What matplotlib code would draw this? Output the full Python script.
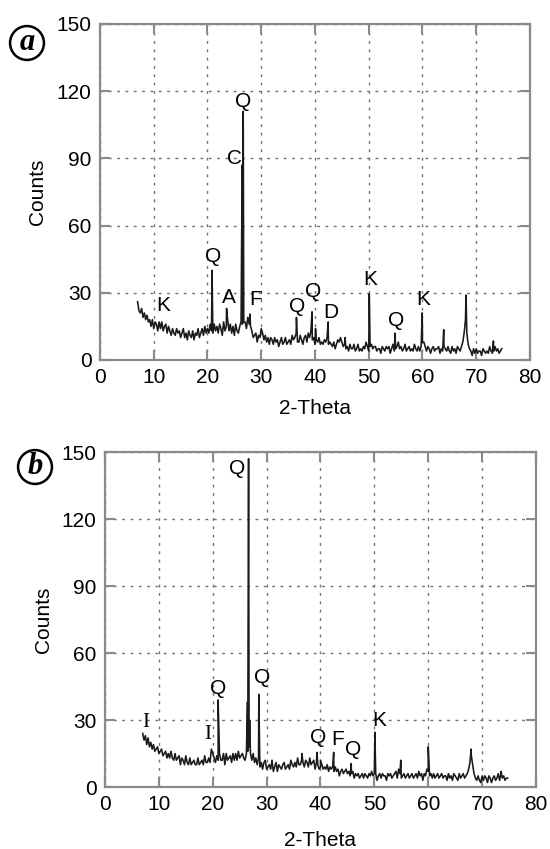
"""
XRD patterns of two samples (a, b) with phase labels.
Q quartz, C calcite, K kaolinite, A albite, F feldspar, D dolomite, I illite.
"""
import matplotlib
matplotlib.use('Agg')
import matplotlib.pyplot as plt
import numpy as np

# ── sample (a): background counts every 0.25 deg starting at 7.0 ───────────
bg_a = [
    26, 22, 21, 23, 19, 21, 18, 20, 17, 18, 15, 18, 14, 17, 16, 13, 17, 14, 17, 13,   # 7
    15, 16, 12, 15, 13, 11, 14, 12, 11, 14, 12, 13, 10, 12, 14, 10, 12, 9, 13, 11,    # 12
    10, 13, 9, 12, 11, 14, 10, 12, 14, 11, 15, 12, 14, 12, 16, 13, 12, 16, 13, 15,    # 17
    12, 16, 14, 11, 17, 13, 15, 18, 13, 16, 12, 15, 11, 16, 13, 12, 15, 17, 16, 17,   # 22
    17, 14, 19, 16, 15, 13, 10, 11, 12, 8, 11, 10, 14, 12, 9, 11, 8, 10, 7, 10,       # 27
    9, 7, 10, 8, 9, 6, 8, 10, 7, 8, 10, 7, 8, 9, 7, 11, 9, 10, 12, 8,                 # 32
    8, 11, 9, 7, 10, 11, 8, 12, 10, 13, 9, 10, 7, 9, 8, 10, 7, 8, 7, 9,               # 37
    8, 10, 7, 8, 7, 6, 8, 5, 7, 9, 8, 10, 8, 6, 7, 5, 6, 4, 7, 5,                     # 42
    5, 7, 4, 5, 7, 4, 5, 4, 6, 5, 8, 6, 4, 6, 7, 5, 6, 6, 4, 5,                       # 47
    5, 3, 6, 5, 4, 6, 5, 6, 3, 5, 7, 4, 5, 6, 8, 5, 6, 4, 5, 7,                       # 52
    4, 5, 6, 4, 5, 4, 7, 5, 4, 6, 4, 6, 8, 8, 6, 4, 6, 5, 3, 5,                       # 57
    6, 4, 5, 5, 6, 3, 5, 4, 6, 5, 4, 6, 4, 3, 6, 4, 5, 3, 6, 5,                       # 62
    4, 6, 8, 12, 18, 12, 7, 5, 4, 2, 5, 3, 5, 3, 4, 4, 2, 5, 4, 3,                    # 67
    4, 3, 6, 4, 3, 4, 6, 4, 5, 3, 4, 5,                                               # 72
]
peak_pos_a = [20.85, 23.55, 26.45, 26.55, 26.65, 27.9, 36.55, 39.45, 40.1,
              42.45, 45.6, 50.1, 54.9, 59.95, 63.95, 68.1, 73.2]
peak_cnt_a = [40, 23, 87, 60, 111, 20.5, 19, 21.5, 14,
              17, 10, 29.5, 12, 21, 13.5, 29, 8.5]

labels_a = ['Q', 'C', 'Q', 'K', 'A', 'F', 'Q', 'Q', 'D', 'K', 'Q', 'K']
label_x_a = [26.6, 25.1, 21.0, 11.8, 23.9, 29.0, 36.6, 39.7, 43.0, 50.2, 55.1, 60.1]
label_y_a = [115.5, 90, 46, 24.5, 28, 27, 23.7, 30.4, 21.4, 35.7, 17.8, 26.8]

# ── sample (b) ─────────────────────────────────────────────────────────────
bg_b = [
    24, 21, 23, 19, 22, 18, 20, 17, 19, 16, 17, 18, 15, 16, 17, 14, 15, 16, 13, 15,   # 7
    13, 16, 13, 12, 15, 12, 13, 14, 10, 13, 12, 10, 14, 11, 10, 13, 10, 11, 12, 10,   # 12
    10, 13, 10, 11, 12, 10, 14, 11, 11, 13, 11, 17, 15, 13, 11, 14, 12, 15, 12, 12,   # 17
    15, 10, 15, 12, 13, 14, 11, 15, 12, 15, 12, 16, 13, 14, 15, 13, 12, 15, 16, 18,   # 22
    15, 12, 15, 11, 13, 10, 13, 9, 11, 8, 11, 12, 8, 9, 10, 8, 12, 7, 9, 11,          # 27
    7, 10, 9, 8, 10, 11, 8, 9, 10, 8, 12, 10, 9, 11, 9, 13, 10, 10, 12, 11,           # 32
    9, 12, 11, 9, 13, 10, 11, 12, 8, 11, 10, 8, 9, 10, 8, 9, 8, 10, 7, 9,             # 37
    8, 9, 7, 9, 7, 8, 5, 7, 8, 6, 7, 8, 6, 7, 5, 6, 7, 4, 6, 5,                       # 42
    6, 4, 5, 6, 4, 6, 5, 4, 6, 5, 7, 5, 6, 6, 3, 5, 6, 4, 6, 5,                       # 47
    5, 3, 6, 5, 6, 4, 5, 6, 7, 4, 8, 6, 4, 5, 6, 4, 5, 6, 4, 5,                       # 52
    6, 4, 5, 6, 4, 7, 5, 6, 3, 6, 5, 8, 7, 5, 6, 4, 6, 4, 5, 6,                       # 57
    4, 5, 6, 4, 5, 5, 3, 6, 4, 5, 3, 6, 5, 4, 3, 6, 4, 5, 6, 4,                       # 62
    5, 6, 8, 11, 14, 10, 6, 4, 3, 5, 3, 2, 5, 3, 5, 4, 2, 5, 4, 2,                    # 67
    4, 5, 3, 4, 6, 3, 6, 4, 5, 3, 4, 4,                                               # 72
]
peak_pos_b = [21.0, 26.45, 26.65, 26.85, 28.55, 36.55, 39.35, 40.0, 42.45,
              45.7, 50.1, 54.9, 60.0, 67.95, 73.5]
peak_cnt_b = [39, 38, 147, 30, 41.5, 15, 15.5, 12, 15.5,
              10.5, 24.5, 12, 18, 17, 7]

labels_b = ['Q', 'I', 'I', 'Q', 'Q', 'Q', 'F', 'Q', 'K']
label_x_b = [24.5, 7.6, 19.0, 21.0, 29.2, 39.5, 43.2, 46.0, 51.0]
label_y_b = [142.8, 29, 23.7, 44, 49, 22, 21.5, 16.6, 30]

SANS = ['Liberation Sans', 'DejaVu Sans']
SERIF = ['Liberation Serif', 'DejaVu Serif']
GRID_GREY = '#707070'
FS = 15


def merge_pattern(bg, peak_pos, peak_cnt):
    """Background samples + peak apex points, sorted by 2-theta."""
    x = np.concatenate([7.0 + 0.25 * np.arange(len(bg)), peak_pos])
    y = np.concatenate([bg, peak_cnt]).astype(float)
    order = np.argsort(x, kind='stable')
    return x[order], y[order]


def style_axes(ax, ylabel_x, xlabel_y):
    ax.set_xlim(0, 80)
    ax.set_ylim(0, 150)
    ax.set_xticks(np.arange(0, 81, 10))
    ax.set_yticks(np.arange(0, 151, 30))
    ax.grid(True, color=GRID_GREY, linestyle=(0, (2, 4)), linewidth=1.0)
    for sp in ax.spines.values():
        sp.set_color('#8a8a8a')
        sp.set_linewidth(1.6)
    ax.tick_params(direction='in', length=7, width=1.5, color='#8a8a8a',
                   top=True, right=True, labelsize=FS, pad=6)
    for lab in ax.get_xticklabels() + ax.get_yticklabels():
        lab.set_family(SANS)
    ax.set_ylabel('Counts', fontsize=FS, family=SANS)
    ax.set_xlabel('2-Theta', fontsize=FS, family=SANS)
    ax.yaxis.set_label_coords(ylabel_x, 0.5)
    ax.xaxis.set_label_coords(0.5, xlabel_y)


def draw_panel(ax, bg, peak_pos, peak_cnt, labels, lx, ly, serif_letters=()):
    x, y = merge_pattern(bg, peak_pos, peak_cnt)
    ax.plot(x, y, color='#1a1a1a', linewidth=1.15, zorder=3)
    for s, px, py in zip(labels, lx, ly):
        fam = SERIF if s in serif_letters else SANS
        ax.text(px, py, s, fontsize=FS, family=fam, ha='center', va='center',
                zorder=4)


fig = plt.figure(figsize=(5.5, 8.49), dpi=100)
ax_a = fig.add_axes([0.1818, 0.5760, 0.7818, 0.3958])
ax_b = fig.add_axes([0.1909, 0.0730, 0.7836, 0.3946])

draw_panel(ax_a, bg_a, peak_pos_a, peak_cnt_a, labels_a, label_x_a, label_y_a)
draw_panel(ax_b, bg_b, peak_pos_b, peak_cnt_b, labels_b, label_x_b, label_y_b,
           serif_letters=('I',))
style_axes(ax_a, -0.123, -0.115)
style_axes(ax_b, -0.121, -0.130)

# circled panel letters
for tag, fx, fy in [('a', 27 / 550, 1 - 43 / 849), ('b', 35 / 550, 1 - 467 / 849)]:
    fig.text(fx, fy, tag, fontsize=22, family=SERIF, fontweight='bold',
             fontstyle='italic', ha='center', va='center',
             bbox=dict(boxstyle='circle,pad=0.08', fc='white', ec='black', lw=1.8))

fig.savefig('out.png', dpi=100)
